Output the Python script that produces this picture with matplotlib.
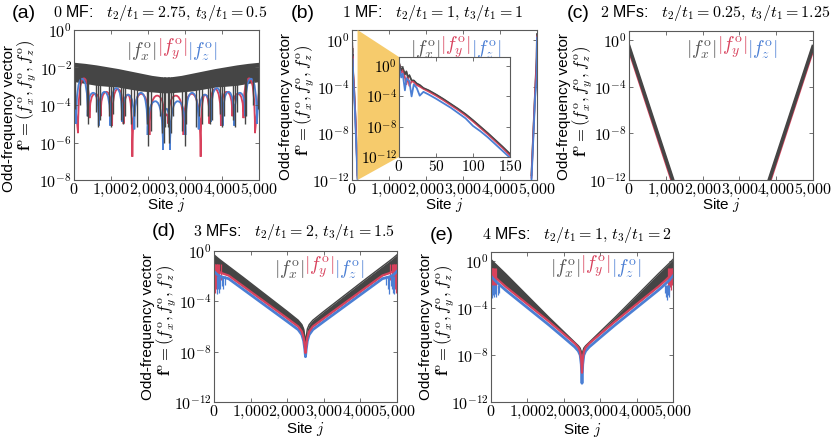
import numpy as np
import matplotlib
matplotlib.use('Agg')
import matplotlib.pyplot as plt
from matplotlib.path import Path
from matplotlib.patches import PathPatch, Polygon
from matplotlib.ticker import NullLocator

plt.rcParams['font.family'] = ['Liberation Sans', 'DejaVu Sans']
plt.rcParams['mathtext.fontset'] = 'cm'

GRAY = '#454545'
RED = '#d8415c'
BLUE = '#4b7fd4'
FRAME = '#5a5a5a'
YELLOW = '#f6cb6c'

# all y values are log10 |f|

# (a) 0 MF: dense grey band + red / blue arches
a_gx = [0, 300, 600, 900, 1200, 1500, 1800, 2100, 2400, 2600, 2900, 3200, 3500, 3800, 4100, 4400, 4700, 5000]
a_gtop = [-1.72, -1.78, -1.86, -1.96, -2.06, -2.18, -2.3, -2.42, -2.5, -2.5, -2.42, -2.3, -2.18, -2.06, -1.96, -1.86, -1.78, -1.72]
a_gbot = [-2.75, -2.85, -2.95, -3.0, -3.05, -3.15, -3.25, -3.3, -3.35, -3.35, -3.3, -3.25, -3.15, -3.05, -3.0, -2.95, -2.85, -2.75]
a_sx = [30, 150, 340, 390, 600, 650, 700, 940, 1000, 1060, 1270, 1320, 1380, 1550, 1620, 1700,
        1960, 2010, 2080, 2330, 2380, 2430, 2470, 2530, 2570, 2620, 2670, 2920, 2990, 3040,
        3300, 3380, 3450, 3620, 3680, 3730, 3940, 4000, 4060, 4300, 4350, 4400, 4610, 4660, 4850, 4970]
a_sd = [-4.2, -4.0, -4.6, -5.0, -4.4, -5.2, -4.8, -4.6, -5.2, -4.5, -4.8, -5.0, -4.6, -5.0, -4.6, -5.2,
        -5.0, -6.2, -5.4, -4.6, -5.5, -6.0, -5.2, -5.2, -6.0, -5.5, -4.6, -5.4, -6.2, -5.0,
        -5.2, -4.6, -5.0, -4.6, -5.0, -4.8, -4.5, -5.2, -4.6, -4.8, -5.2, -4.4, -5.0, -4.6, -4.0, -4.2]
# arches: nodes (minima) and peaks (maxima)
ab_nx = [60, 370, 670, 980, 1300, 1630, 1990, 2405, 2595, 3010, 3370, 3700, 4020, 4330, 4630, 4940]
ab_ny = [-5.0, -4.6, -5.1, -5.1, -4.9, -5.3, -5.6, -6.4, -6.4, -5.6, -5.3, -4.9, -5.1, -5.1, -4.6, -5.0]
ab_px = [215, 520, 825, 1140, 1465, 1810, 2200, 2500, 2800, 3190, 3535, 3860, 4175, 4480, 4785]
ab_py = [-2.6, -3.35, -3.3, -3.1, -3.45, -3.35, -3.8, -4.2, -3.8, -3.35, -3.45, -3.1, -3.3, -3.35, -2.6]
ar_nx = [110, 420, 720, 1030, 1340, 1577, 2040, 2450, 2550, 2960, 3423, 3660, 3970, 4280, 4580, 4890]
ar_ny = [-5.5, -4.7, -4.6, -5.1, -5.0, -6.76, -5.6, -5.0, -5.0, -5.6, -6.76, -5.0, -5.1, -4.6, -4.7, -5.5]
ar_px = [265, 570, 875, 1185, 1460, 1810, 2245, 2500, 2755, 3190, 3540, 3815, 4125, 4430, 4735]
ar_py = [-2.58, -3.4, -3.3, -3.15, -3.45, -3.4, -3.5, -4.5, -3.5, -3.4, -3.45, -3.15, -3.3, -3.4, -2.58]
a_ends = [-3.3, -3.3]

# (b) 1 MF: first 150 sites (inset) and last sites
b_x = [0, 3, 5, 8, 10, 12, 14, 17, 20, 24, 28, 33, 40, 50, 60, 70, 80, 90, 100, 110, 120, 130, 140, 150]
b_gray = [0.5, -0.6, -0.2, -1.1, -0.7, -1.5, -1.2, -1.9, -1.9, -2.3, -2.5, -2.9, -3.2, -3.75, -4.35,
          -5.0, -5.65, -6.35, -7.15, -8.0, -8.85, -9.75, -10.65, -11.6]
b_red = [0.3, -0.9, -0.5, -1.5, -2.4, -1.4, -2.6, -2.0, -2.1, -2.5, -2.7, -3.0, -3.35, -3.9, -4.5,
         -5.15, -5.8, -6.5, -7.3, -8.15, -9.0, -9.9, -10.8, -11.8]
b_blue = [0.2, -1.5, -1.0, -3.2, -1.6, -1.8, -2.0, -4.0, -2.4, -2.9, -3.9, -3.4, -3.75, -4.3, -4.9,
          -5.5, -6.2, -6.9, -7.9, -8.6, -9.4, -10.3, -11.2, -12.1]
b_rx = [4850, 4900, 4950, 4990, 5000]
b_rgray = [-11.6, -7.9, -4.3, -1.5, 0.5]
b_rred = [-11.8, -8.1, -4.5, -2.0, 0.3]
b_rblue = [-12.1, -8.5, -4.9, -3.4, 0.2]

# (c) 2 MFs
c_lx = [0, 1200]
c_rx = [3800, 5000]
c_lgray = [-0.55, -12.1]
c_lred = [-0.72, -12.3]
c_rgray = [-12.1, -0.55]
c_rred = [-12.3, -0.72]

# (d) 3 MFs and (e) 4 MFs share the site grid
de_x = [0, 100, 200, 400, 800, 1200, 1600, 2000, 2300, 2400, 2450, 2480, 2500,
        2520, 2550, 2600, 2700, 3000, 3400, 3800, 4200, 4600, 4800, 4900, 5000]
d_top = [-0.3, -0.55, -0.78, -1.22, -2.1, -3.0, -3.9, -4.8, -5.5, -5.85, -6.2, -6.8, -7.6,
         -6.8, -6.2, -5.85, -5.5, -4.8, -3.9, -3.0, -2.1, -1.22, -0.78, -0.55, -0.3]
d_red = [-1.3, -1.6, -1.75, -1.95, -2.8, -3.65, -4.5, -5.35, -6.0, -6.4, -6.9, -7.5, -8.1,
         -7.5, -6.9, -6.4, -6.0, -5.35, -4.5, -3.65, -2.8, -1.95, -1.75, -1.6, -1.3]
d_blue = [-1.6, -1.9, -2.05, -2.2, -3.05, -3.9, -4.75, -5.6, -6.25, -6.65, -7.15, -7.8, -8.4,
          -7.8, -7.15, -6.65, -6.25, -5.6, -4.75, -3.9, -3.05, -2.2, -2.05, -1.9, -1.6]
d_rsx = [15, 35, 55, 75, 95, 120, 150, 180, 4820, 4850, 4880, 4905, 4925, 4945, 4965, 4985]
d_rsd = [-3.3, -2.6, -3.0, -2.5, -2.8, -2.4, -2.6, -2.3, -2.3, -2.6, -2.4, -2.8, -2.5, -3.0, -2.6, -3.3]
d_bsx = [90, 110, 130, 170, 210, 250, 290, 4710, 4750, 4790, 4830, 4870, 4890, 4910]
d_bsd = [-3.4, -3.0, -3.3, -3.0, -2.8, -3.0, -2.7, -2.7, -3.0, -3.4, -2.8, -3.0, -3.3, -3.4]

e_top = [0.17, -0.15, -0.45, -1.05, -2.3, -3.55, -4.8, -6.0, -6.9, -7.2, -7.4, -7.7, -8.0,
         -7.7, -7.4, -7.2, -6.9, -6.0, -4.8, -3.55, -2.3, -1.05, -0.45, -0.15, 0.17]
e_red = [-0.9, -1.3, -1.6, -2.15, -3.15, -4.15, -5.15, -6.2, -7.0, -7.35, -7.7, -8.4, -9.5,
         -8.4, -7.7, -7.35, -7.0, -6.2, -5.15, -4.15, -3.15, -2.15, -1.6, -1.3, -0.9]
e_blue = [-1.2, -1.6, -1.9, -2.45, -3.45, -4.45, -5.45, -6.5, -7.3, -7.65, -8.0, -8.8, -10.4,
          -8.8, -8.0, -7.65, -7.3, -6.5, -5.45, -4.45, -3.45, -2.45, -1.9, -1.6, -1.2]
e_rsx = [15, 30, 45, 60, 80, 100, 130, 4870, 4900, 4930, 4950, 4970, 4985]
e_rsd = [-1.6, -2.2, -2.0, -2.4, -2.2, -2.5, -2.3, -2.3, -2.5, -2.2, -2.4, -2.0, -1.6]
e_bsx = [40, 55, 70, 100, 140, 180, 220, 4780, 4800, 4830, 4860, 4900]
e_bsd = [-3.1, -2.9, -3.0, -2.8, -3.0, -2.9, -2.7, -2.7, -3.0, -3.3, -2.9, -3.0]

W, H = 831, 443
fig = plt.figure(figsize=(W / 100, H / 100), dpi=100)


def p10(v):
    return 10.0 ** np.asarray(v, dtype=float)


def add_ax(left, top, width, height):
    return fig.add_axes([left / W, 1 - (top + height) / H, width / W, height / H])


def ftext(x, y, s, **kw):
    fig.text(x / W, 1 - y / H, s, **kw)


def style(ax, yexp, ytop, xt=(0, 1000, 2000, 3000, 4000, 5000), xmax=5000, size=11.5):
    ax.set_yscale('log')
    ax.set_ylim(10.0 ** yexp[-1], ytop)
    ax.set_xlim(0, xmax)
    ax.set_yticks(p10(yexp), [r'$10^{%d}$' % e for e in yexp])
    ax.yaxis.set_minor_locator(NullLocator())
    ax.set_xticks(xt, [r'$%s$' % f'{v:,}'.replace(',', '{,}') for v in xt])
    ax.tick_params(direction='in', length=3, width=0.6, color=FRAME, top=True, right=True,
                   labelsize=size, pad=1.5)
    for s in ax.spines.values():
        s.set_color(FRAME)
        s.set_linewidth(0.8)


def arches(ax, start, nx, ny, px, py, end, color):
    # minima and maxima joined by quadratic curves (vertical legs, round tops)
    verts = [(0, start), (nx[0], ny[0])]
    codes = [Path.MOVETO, Path.LINETO]
    for i in range(len(px)):
        verts += [(nx[i], py[i]), (px[i], py[i]), (nx[i + 1], py[i]), (nx[i + 1], ny[i + 1])]
        codes += [Path.CURVE3] * 4
    verts.append((5000, end))
    codes.append(Path.LINETO)
    v = np.array(verts, dtype=float)
    v[:, 1] = 10.0 ** v[:, 1]
    ax.add_patch(PathPatch(Path(v, codes), fill=False, edgecolor=color, lw=1.3))


def legend(ax, x, y, size=14):
    mid = ax.text(x, y, r'$|f_y^{\rm o}|$', color=RED, fontsize=size, ha='center', va='center',
                  transform=ax.transAxes, zorder=10)
    ax.annotate(r'$|f_x^{\rm o}|$', xy=(0, 0), xycoords=mid, ha='right', va='bottom',
                color='#555555', fontsize=size, zorder=10)
    ax.annotate(r'$|f_z^{\rm o}|$', xy=(1, 0), xycoords=mid, ha='left', va='bottom',
                color=BLUE, fontsize=size, zorder=10)


def labels(x1, x2, ymid1, ymid2, xsite, ysite):
    ftext(x1, ymid1, 'Odd-frequency vector', rotation=90, ha='center', va='center', fontsize=11)
    ftext(x2, ymid2, r'$\mathbf{f}^{\rm o} = (f_x^{\rm o}, f_y^{\rm o}, f_z^{\rm o})$',
          rotation=90, ha='center', va='center', fontsize=12)
    ftext(xsite, ysite, r'Site $j$', ha='center', va='center', fontsize=11)


def title(xl, xt, y, tag, s):
    ftext(xl, y, tag, ha='left', va='center', fontsize=14)
    ftext(xt, y, s, ha='left', va='center', fontsize=11.5)


# ---------- (a)
ax = add_ax(74, 30, 185, 150)
style(ax, [0, -2, -4, -6, -8], 1.0)
ax.fill_between(a_gx, p10(a_gtop), p10(a_gbot), color=GRAY, lw=0)
ax.vlines(a_sx, p10(a_sd), 10 ** -2.5, color=GRAY, lw=1.0)
arches(ax, a_ends[0], ar_nx, ar_ny, ar_px, ar_py, a_ends[1], RED)
arches(ax, a_ends[0], ab_nx, ab_ny, ab_px, ab_py, a_ends[1], BLUE)
legend(ax, 0.53, 0.87)
labels(9, 27, 118, 95, 166, 205)
title(12, 53, 13, '(a)', r'$0$ MF:   $t_2/t_1 = 2.75,\, t_3/t_1 = 0.5$')

# ---------- (b)
ax = add_ax(352, 30, 185, 150)
style(ax, [0, -4, -8, -12], 10 ** 0.85)
for xs, ys, c in [(b_x, b_gray, GRAY), (b_x, b_red, RED), (b_x, b_blue, BLUE),
                  (b_rx, b_rgray, GRAY), (b_rx, b_rred, RED), (b_rx, b_rblue, BLUE)]:
    ax.plot(xs, p10(ys), color=c, lw=1.3)
legend(ax, 0.56, 0.88)
labels(286, 305, 107, 100, 444, 205)
title(291, 342, 13, '(b)', r'$1$ MF:   $t_2/t_1 = 1,\, t_3/t_1 = 1$')

ins = add_ax(399, 57, 111, 100)
ins.set_zorder(5)
style(ins, [0, -4, -8, -12], 10 ** 1.2, xt=(0, 50, 100, 150), xmax=150, size=11)
for ys, c in [(b_gray, GRAY), (b_red, RED), (b_blue, BLUE)]:
    ins.plot(b_x, p10(ys), color=c, lw=1.3)
ins.plot(b_x, p10(b_gray), color=GRAY, lw=0.8, alpha=0.8)

# zoom wedge from the main axes to the inset
to_fig = fig.transFigure.inverted()
pts = [ax.get_xaxis_transform().transform((150, 1)), ins.transAxes.transform((0, 1)),
       ins.transAxes.transform((0, 0)), ax.get_xaxis_transform().transform((150, 0))]
fig.add_artist(Polygon(to_fig.transform(pts), closed=True, facecolor=YELLOW, edgecolor='none',
                       transform=fig.transFigure, zorder=1))

# ---------- (c)
ax = add_ax(629, 31, 184, 149)
style(ax, [0, -4, -8, -12], 10 ** 0.8)
ax.plot(c_lx, p10(c_lred), color=RED, lw=2.6)
ax.plot(c_rx, p10(c_rred), color=RED, lw=2.6)
ax.plot(c_lx, p10(c_lgray), color=GRAY, lw=2.6)
ax.plot(c_rx, p10(c_rgray), color=GRAY, lw=2.6)
legend(ax, 0.56, 0.885)
labels(564, 583, 107, 101, 721, 205)
title(567, 600, 13, '(c)', r'$2$ MFs:   $t_2/t_1 = 0.25,\, t_3/t_1 = 1.25$')

# ---------- (d)
ax = add_ax(214, 251, 183, 151)
style(ax, [0, -4, -8, -12], 1.0)
ax.fill_between(de_x, p10(d_top), p10(d_red), color=GRAY, lw=0)
ax.plot(de_x, p10(d_top), color=GRAY, lw=1.0)
ax.vlines(d_rsx, p10(d_rsd), 10 ** -1.0, color=RED, lw=0.9)
ax.vlines(d_bsx, p10(d_bsd), 10 ** -2.0, color=BLUE, lw=0.9)
ax.plot(de_x, p10(d_blue), color=BLUE, lw=2.0)
ax.plot(de_x, p10(d_red), color=RED, lw=1.6)
legend(ax, 0.575, 0.887)
labels(148, 167, 326, 320, 305, 429)
title(152, 193, 232, '(d)', r'$3$ MFs:   $t_2/t_1 = 2,\, t_3/t_1 = 1.5$')

# ---------- (e)
ax = add_ax(491, 252, 182, 150)
style(ax, [0, -4, -8, -12], 10 ** 0.8)
ax.fill_between(de_x, p10(e_top), p10(e_red), color=GRAY, lw=0)
ax.plot(de_x, p10(e_top), color=GRAY, lw=1.0)
ax.vlines(e_rsx, p10(e_rsd), 10 ** -0.6, color=RED, lw=0.9)
ax.vlines(e_bsx, p10(e_bsd), 10 ** -2.0, color=BLUE, lw=0.9)
ax.plot(de_x, p10(e_blue), color=BLUE, lw=2.0)
ax.plot(de_x, p10(e_red), color=RED, lw=1.6)
legend(ax, 0.575, 0.9)
labels(426, 445, 326, 320, 582, 430)
title(430, 482, 235, '(e)', r'$4$ MFs:   $t_2/t_1 = 1,\, t_3/t_1 = 2$')

fig.savefig('out.png', dpi=100)
